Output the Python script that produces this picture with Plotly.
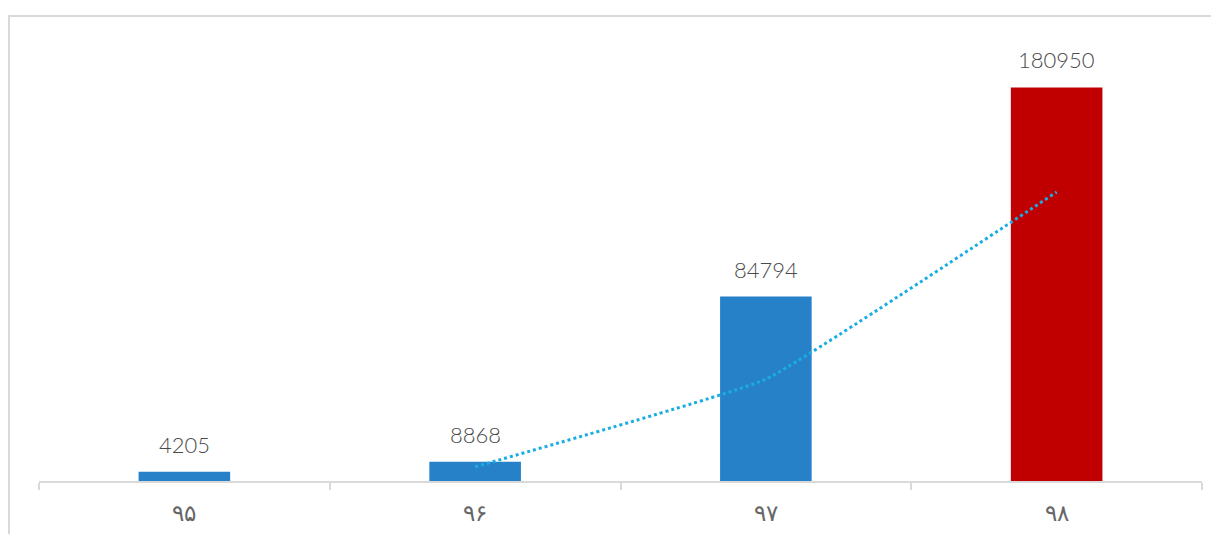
import plotly.graph_objects as go

categories = ["۹۵", "۹۶", "۹۷", "۹۸"]
values = [4205, 8868, 84794, 180950]
bar_colors = ["#2681C8", "#2681C8", "#2681C8", "#C00000"]
trend_categories = ["۹۶", "۹۷", "۹۸"]
trend_values = [6537, 46831, 132872]
label_texts = ["4205", "8868", "84794", "180950"]

fig = go.Figure()
fig.add_trace(go.Bar(
    x=categories, y=values, marker=dict(color=bar_colors, line=dict(width=0)),
    width=0.315, showlegend=False, hoverinfo="skip"))
fig.add_trace(go.Scatter(
    x=trend_categories, y=trend_values, mode="lines",
    line=dict(color="#1AADE4", width=3, dash="dot", shape="spline", smoothing=0.3),
    showlegend=False, hoverinfo="skip"))

for c, v, t in zip(categories, values, label_texts):
    fig.add_annotation(x=c, y=v, text=t, showarrow=False, yanchor="bottom",
                       yshift=12, font=dict(family="Lato", size=22, color="#4A4A4A", weight=300))

fig.add_shape(type="rect", xref="paper", yref="paper",
              x0=-0.0258, x1=1.1, y0=-0.3, y1=1.069,
              line=dict(color="#D9D9D9", width=2), fillcolor="rgba(0,0,0,0)", layer="below")

fig.update_layout(
    width=1211, height=526,
    margin=dict(l=31, r=17, t=38, b=53, autoexpand=False),
    paper_bgcolor="white", plot_bgcolor="white",
    bargap=0.685,
    xaxis=dict(type="category", showgrid=False, showline=True, linecolor="#D9D9D9",
               linewidth=2, ticks="outside", tickson="boundaries", ticklen=7,
               tickcolor="#D9D9D9", tickwidth=2, ticklabelstandoff=10, automargin=False,
               tickfont=dict(family="DejaVu Sans", size=23, color="#666666", weight=300),
               range=[-0.5, 3.5]),
    yaxis=dict(visible=False, range=[0, 200000], showgrid=False, zeroline=False),
)

fig.write_html("out.html")
